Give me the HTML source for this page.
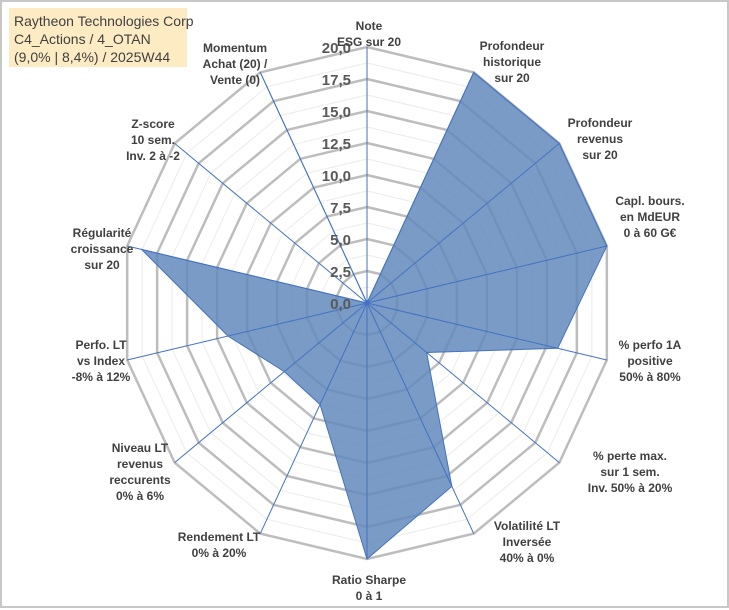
<!DOCTYPE html>
<html><head><meta charset="utf-8"><style>
body{margin:0;background:#fff;}
#wrap{position:relative;width:729px;height:610px;overflow:hidden;background:#fff;}
svg text{font-family:"Liberation Sans",sans-serif;}
</style></head><body>
<div id="wrap">
<svg id="chart" width="729" height="610"></svg>
</div>
<script>
const categories=[["Note","ESG sur 20"],["Profondeur","historique","sur 20"],["Profondeur","revenus","sur 20"],["Capl. bours.","en MdEUR","0 à 60 G€"],["% perfo 1A","positive","50% à 80%"],["% perte max.","sur 1 sem.","Inv. 50% à 20%"],["Volatilité LT","Inversée","40% à 0%"],["Ratio Sharpe","0 à 1"],["Rendement LT","0% à 20%"],["Niveau LT","revenus","reccurents","0% à 6%"],["Perfo. LT","vs Index","-8% à 12%"],["Régularité","croissance","sur 20"],["Z-score","10 sem.","Inv. 2 à -2"],["Momentum","Achat (20) /","Vente (0)"]];
const values=[0,20,20,20,15.9,6.2,15.9,20,8.8,8.6,11.6,18.8,0,20];
const tickLabels=["0,0","2,5","5,0","7,5","10,0","12,5","15,0","17,5","20,0"];
const maxVal=20;
const labelPos=[[369,30],[512,50],[600,127],[650,205],[650,349],[630,460],[527,530],[369,584],[219,541],[140,452],[101,349],[102,237],[153,128],[235,52]];

const NS="http://www.w3.org/2000/svg";
const svg=document.getElementById('chart');
const cx=367,cy=303,rx=246,ry=256,N=categories.length;
function ang(i){return i*2*Math.PI/N;}
function px(i,v){return cx+rx*(v/maxVal)*Math.sin(ang(i));}
function py(i,v){return cy-ry*(v/maxVal)*Math.cos(ang(i));}
function mk(t,a){const e=document.createElementNS(NS,t);for(const k in a)e.setAttribute(k,a[k]);svg.appendChild(e);return e;}

const frame=mk('rect',{x:1,y:1,width:727,height:606,fill:'#fff',stroke:'#c8c8c8','stroke-width':2});



for(let k=1;k<=16;k+=2){
  const v=k*maxVal/16;
  let pts=[];for(let i=0;i<N;i++)pts.push(px(i,v)+','+py(i,v));
  const p=mk('polygon',{points:pts.join(' '),fill:'none',stroke:'#ececec','stroke-width':1});
  
  
}
for(let k=1;k<tickLabels.length;k++){
  const v=k*maxVal/(tickLabels.length-1);
  let pts=[];for(let i=0;i<N;i++)pts.push(px(i,v)+','+py(i,v));
  const p=mk('polygon',{points:pts.join(' '),fill:'none',stroke:'#bdbdbd','stroke-width':2.5});
  
  
}
let sp=[];for(let i=0;i<N;i++)sp.push(px(i,values[i])+','+py(i,values[i]));
const series=mk('polygon',{points:sp.join(' '),fill:'#6289bb','fill-opacity':0.85,stroke:'#4472c4','stroke-width':1});


for(let i=0;i<N;i++){
  const l=mk('line',{x1:cx,y1:cy,x2:px(i,maxVal),y2:py(i,maxVal),stroke:'#4472c4','stroke-width':1});
  
  
}
for(let k=0;k<tickLabels.length;k++){
  const v=k*maxVal/(tickLabels.length-1);
  const t=mk('text',{x:cx-16,y:cy-ry*v/maxVal+6,'text-anchor':'end','font-size':15,'font-weight':'bold',fill:'#595959'});
  t.textContent=tickLabels[k];
  
  
}
for(let i=0;i<N;i++){
  const lines=categories[i];
  const [lx,ly]=labelPos[i];
  const t=mk('text',{x:lx,y:ly,'text-anchor':'middle','font-size':12,'font-weight':'bold',fill:'#404040'});
  lines.forEach((s,j)=>{const ts=document.createElementNS(NS,'tspan');ts.setAttribute('x',lx);ts.setAttribute('dy',j?16:0);ts.textContent=s;t.appendChild(ts);});
  
  
}
const tb=mk('rect',{x:9,y:8,width:178,height:59,fill:'#fdebc4'});


["Raytheon Technologies Corp","C4_Actions / 4_OTAN","(9,0% | 8,4%) / 2025W44"].forEach((s,j)=>{
  const t=mk('text',{x:14,y:26+j*18,'font-size':14,fill:'#404040'});
  t.textContent=s;
  
  
});
</script>
</body></html>
